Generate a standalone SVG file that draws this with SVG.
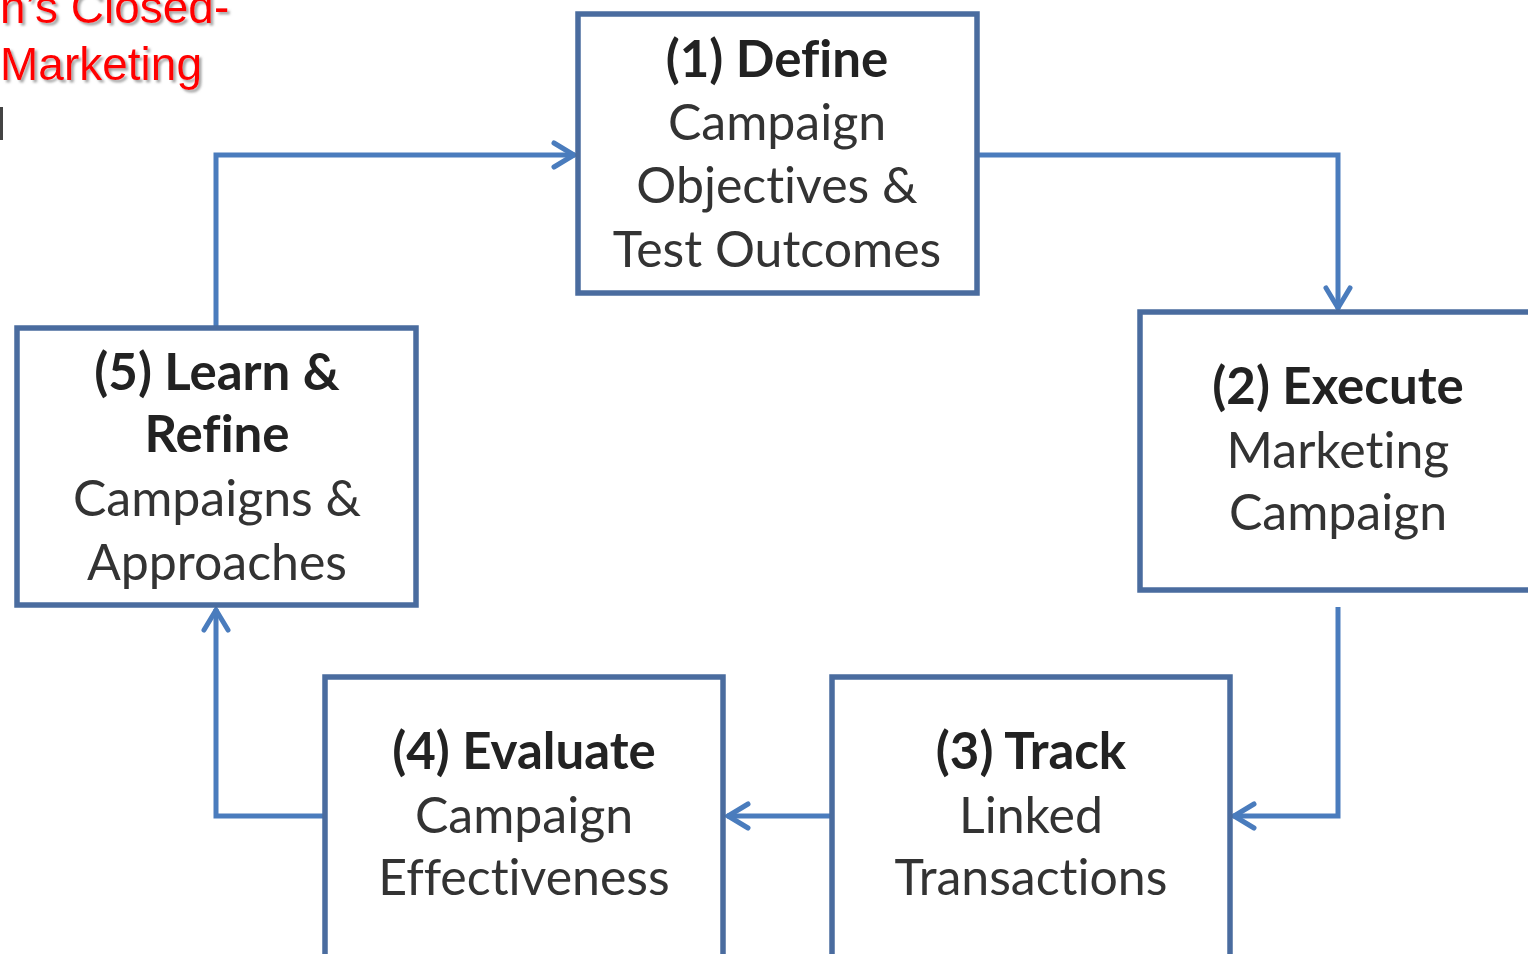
<svg xmlns="http://www.w3.org/2000/svg" width="1528" height="954" viewBox="0 0 1528 954">
  <defs>
    <filter id="shadow" x="-10%" y="-20%" width="130%" height="160%">
      <feDropShadow dx="2.5" dy="2.5" stdDeviation="1" flood-color="#808080" flood-opacity="0.7"/>
    </filter>
    <marker id="arrow" markerUnits="userSpaceOnUse" viewBox="-26 -16 30 32" markerWidth="30" markerHeight="32" refX="0" refY="0" orient="auto">
      <path d="M-21,-12 L-1,0 L-21,12" fill="none" stroke="#4a7cbd" stroke-width="5" stroke-linecap="round" stroke-linejoin="miter"/>
    </marker>
    <style>
      .box { fill: #ffffff; stroke: #4a6c9f; stroke-width: 5.5; }
      .conn { fill: none; stroke: #4a7cbd; stroke-width: 5; stroke-linejoin: miter; }
      .head { font-family: Lato, "Open Sans", "Liberation Sans", sans-serif; font-weight: bold; font-size: 51px; fill: #222222; text-anchor: middle; font-variant-ligatures: none; font-feature-settings: "liga" 0, "clig" 0; }
      .body { font-family: Lato, "Open Sans", "Liberation Sans", sans-serif; font-size: 50px; fill: #333333; text-anchor: middle; font-variant-ligatures: none; font-feature-settings: "liga" 0, "clig" 0; }
      .title { font-family: "Liberation Sans", Arial, sans-serif; font-size: 46px; fill: #ff0000; }
    </style>
  </defs>
  <rect x="0" y="0" width="1528" height="954" fill="#ffffff"/>

  <g id="title" filter="url(#shadow)">
    <text class="title" x="0" y="23">n’s Closed-</text>
    <text class="title" x="0" y="80">Marketing</text>
  </g>
  <rect x="0" y="107" width="3" height="33" fill="#444444"/>

  <g id="connectors">
    <path class="conn" d="M977,155 H1338 V309" marker-end="url(#arrow)"/>
    <path class="conn" d="M1338,607 V816 H1233" marker-end="url(#arrow)"/>
    <path class="conn" d="M832,816 H727" marker-end="url(#arrow)"/>
    <path class="conn" d="M325,816 H216 V609" marker-end="url(#arrow)"/>
    <path class="conn" d="M216,328 V155 H575" marker-end="url(#arrow)"/>
  </g>

  <g id="node1">
    <rect class="box" x="578" y="14" width="399" height="279"/>
    <text class="head" x="777" y="77">(1) Define</text>
    <text class="body" x="777" y="140">Campaign</text>
    <text class="body" x="777" y="203">Objectives &amp;</text>
    <text class="body" x="777" y="267">Test Outcomes</text>
  </g>

  <g id="node2">
    <rect class="box" x="1140" y="312" width="420" height="278"/>
    <text class="head" x="1338" y="404">(2) Execute</text>
    <text class="body" x="1338" y="468">Marketing</text>
    <text class="body" x="1338" y="530">Campaign</text>
  </g>

  <g id="node3">
    <rect class="box" x="832" y="677" width="398" height="320"/>
    <text class="head" x="1031" y="769">(3) Track</text>
    <text class="body" x="1031" y="833">Linked</text>
    <text class="body" x="1031" y="895">Transactions</text>
  </g>

  <g id="node4">
    <rect class="box" x="325" y="677" width="398" height="320"/>
    <text class="head" x="524" y="769">(4) Evaluate</text>
    <text class="body" x="524" y="833">Campaign</text>
    <text class="body" x="524" y="895">Effectiveness</text>
  </g>

  <g id="node5">
    <rect class="box" x="17" y="328" width="399" height="277"/>
    <text class="head" x="217" y="390">(5) Learn &amp;</text>
    <text class="head" x="217" y="452">Refine</text>
    <text class="body" x="217" y="516">Campaigns &amp;</text>
    <text class="body" x="217" y="580">Approaches</text>
  </g>
</svg>
